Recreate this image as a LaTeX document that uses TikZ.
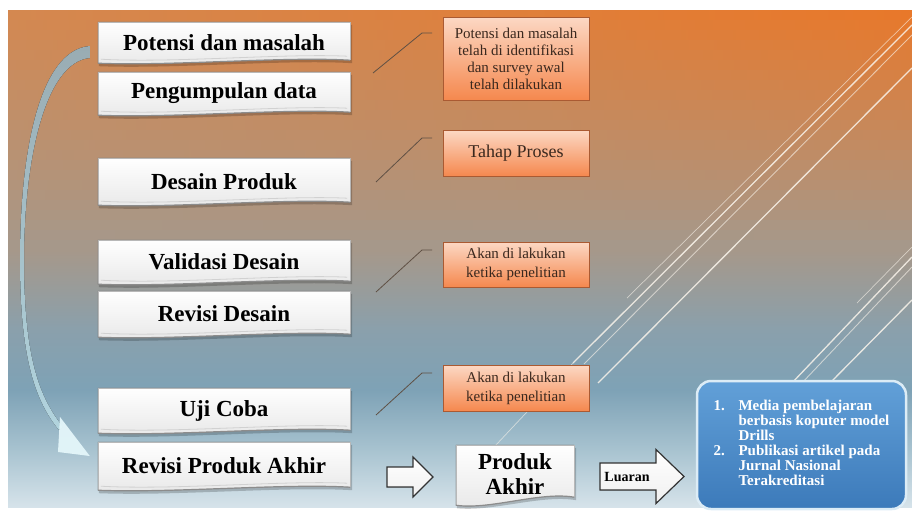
\documentclass[tikz,border=0pt]{standalone}
\usepackage{fontspec}
\setmainfont{Liberation Serif}
\usetikzlibrary{calc}
\pgfdeclarelayer{bg}
\pgfdeclarelayer{shapes}
\pgfsetlayers{bg,shapes,main}
\definecolor{bg0}{RGB}{212,136,80}
\definecolor{bg2}{RGB}{166,152,138}
\definecolor{bg3}{RGB}{138,160,172}
\definecolor{bg4}{RGB}{126,162,182}
\definecolor{bg5}{RGB}{168,195,208}
\definecolor{bg6}{RGB}{214,227,234}
\definecolor{orTop}{RGB}{232,120,42}
\definecolor{obTop}{RGB}{252,216,196}
\definecolor{obBot}{RGB}{245,136,78}
\definecolor{obLine}{RGB}{170,90,50}
\definecolor{obText}{RGB}{58,40,30}
\definecolor{calloutC}{RGB}{95,80,68}
\definecolor{blueTop}{RGB}{98,160,216}
\definecolor{blueBot}{RGB}{60,122,186}
\definecolor{blueEdge}{RGB}{220,236,246}
\definecolor{arcTop}{RGB}{168,190,198}
\definecolor{arcBot}{RGB}{196,234,245}
\definecolor{lineC}{RGB}{250,244,235}
\newcommand\paperbox[1]{%
 \fill[black,opacity=0.2] ($(#1.north west)+(1,3)$) -- ($(#1.north east)+(2,3)$) -- ($(#1.south east)+(2,0)$) .. controls ($(#1.south)+(61,-4)$) and ($(#1.south)+(-49,6)$) .. ($(#1.south west)+(1,3)$) -- cycle;
 \fill[top color=white, bottom color=black!9] (#1.north west) -- (#1.north east) -- ($(#1.south east)+(0,-3)$) .. controls ($(#1.south)+(60,-7)$) and ($(#1.south)+(-50,3)$) .. (#1.south west) -- cycle;
 \draw[black!28, line width=0.6pt] (#1.south west) -- (#1.north west) -- (#1.north east) -- ($(#1.south east)+(0,-3)$);
 \draw[black!18, line width=0.8pt] ($(#1.south east)+(-3,-7)$) .. controls ($(#1.south)+(60,-10)$) and ($(#1.south)+(-50,0)$) .. ($(#1.south west)+(3,-4)$);
 \draw[black!45, line width=1.2pt] ($(#1.south east)+(0,-3)$) .. controls ($(#1.south)+(60,-7)$) and ($(#1.south)+(-50,3)$) .. (#1.south west);
}
\newcommand\blockarrow[5]{%
 \filldraw[arrowbox] ($(#1)+(0,-#3)$) -- ($(#2)+(-#5,-#3)$) -- ($(#2)+(-#5,-#4)$) -- (#2) -- ($(#2)+(-#5,#4)$) -- ($(#2)+(-#5,#3)$) -- ($(#1)+(0,#3)$) -- cycle;
}
\begin{document}
\begin{tikzpicture}[x=1pt,y=-1pt,
 wbox/.style={minimum width=252pt, inner sep=0pt, font=\bfseries\fontsize{23}{25}\selectfont, text=black},
 obox/.style={draw=obLine, line width=0.8pt, top color=obTop, bottom color=obBot, minimum width=146pt, inner sep=0pt, align=center, font=\fontsize{15}{17}\selectfont, text=obText},
 callout/.style={draw=calloutC, line width=0.8pt},
 dline/.style={draw=lineC, line width=1.3pt, opacity=0.85},
 tline/.style={draw=lineC, line width=0.7pt, opacity=0.6},
 arrowbox/.style={top color=white, bottom color=black!6, draw=black!80, line width=1.2pt, line join=miter},
]
\useasboundingbox (0,0) rectangle (912,520);

% left column boxes
\node[wbox, minimum height=41pt] (pm) at (224,42.5) {Potensi dan masalah};
\node[wbox, minimum height=43pt] (pd) at (224,93.5) {Pengumpulan data};
\node[wbox, minimum height=47pt] (dp) at (224,181.5) {Desain Produk};
\node[wbox, minimum height=44pt] (vd) at (224,262) {Validasi Desain};
\node[wbox, minimum height=46pt] (rd) at (224,314) {Revisi Desain};
\node[wbox, minimum height=45pt] (uc) at (224,410.5) {Uji Coba};
\node[wbox, minimum height=48pt] (rp) at (224,466) {Revisi Produk Akhir};

% orange notes
\node[obox, minimum height=83pt] (ob1) at (516,58.5) {Potensi dan masalah\\telah di identifikasi\\dan survey awal\\telah dilakukan};
\node[obox, minimum height=46pt, font=\fontsize{18}{20}\selectfont] (ob2) at (516,153) {Tahap Proses};
\node[obox, minimum height=45pt, font=\fontsize{15}{19}\selectfont] (ob3) at (516,264.5) {Akan di lakukan\\ketika penelitian};
\node[obox, minimum height=46pt, font=\fontsize{15}{19}\selectfont] (ob4) at (516,388) {Akan di lakukan\\ketika penelitian};

% product and output
\node[inner sep=0pt, minimum width=118pt, minimum height=58pt, align=center, font=\bfseries\fontsize{23}{25}\selectfont] (pa) at (515,474) {Produk\\Akhir};
\node[inner sep=0pt, font=\bfseries\fontsize{14}{16}\selectfont] (lu) at (627,476.5) {Luaran};
\node[rounded corners=14pt, draw=blueEdge, line width=2.5pt, top color=blueTop, bottom color=blueBot, minimum width=209pt, minimum height=128pt, inner sep=0pt, text=white, font=\bfseries\fontsize{15}{15}\selectfont] (bb) at (801.5,445) {\begin{tabular}{@{}p{25pt}@{}l@{}}1. & Media pembelajaran\\ & berbasis koputer model\\ & Drills\\ 2. & Publikasi artikel pada\\ & Jurnal Nasional\\ & Terakreditasi\end{tabular}};

% coordinates
\coordinate (k1a) at (373,73);  \coordinate (k1b) at (422,33);  \coordinate (k1c) at (432,33);
\coordinate (k2a) at (376,182); \coordinate (k2b) at (422,138); \coordinate (k2c) at (432,138);
\coordinate (k3a) at (376,292); \coordinate (k3b) at (422,250); \coordinate (k3c) at (432,250);
\coordinate (k4a) at (376,415); \coordinate (k4b) at (422,373); \coordinate (k4c) at (432,373);
\coordinate (wa1) at (387,477); \coordinate (wa2) at (433,477);
\coordinate (la1) at (600,476.5); \coordinate (la2) at (684,476.5);
\coordinate (as) at ($(pm.west)+(-8,9.5)$);
\coordinate (at) at ($(rp.west)+(-8,-10)$);

\begin{pgfonlayer}{bg}
 \foreach \i in {0,...,23} {
   \pgfmathtruncatemacro\pp{100-100*\i/23}
   \fill[left color=bg0!\pp!bg2, right color=orTop!\pp!bg2] (8,{10+10*\i}) rectangle (912,{20.6+10*\i});
 }
 \fill[top color=bg2, bottom color=bg3] (8,250) rectangle (912,330.5);
 \fill[top color=bg3, bottom color=bg4] (8,330) rectangle (912,390.5);
 \fill[top color=bg4, bottom color=bg5] (8,390) rectangle (912,450.5);
 \fill[top color=bg5, bottom color=bg6] (8,450) rectangle (912,507);
 % decorative diagonal lines
 \draw[tline] (627,298) -- (912,17);
 \draw[dline] (573,363) -- (912,25);
 \draw[tline, line width=0.9pt] (584,364) -- (912,35);
 \draw[dline] (598,383) -- (912,68);
 \draw[tline] (495,446) -- (573,363);
 \draw[tline] (857,303) -- (912,247);
 \draw[dline] (790,385) -- (912,257);
 \draw[tline, line width=0.9pt] (800,385) -- (912,267);
 \draw[dline] (828,385) -- (912,300);
 % callouts
 \draw[callout] (k1a) -- (k1b) -- (k1c);
 \draw[callout] (k2a) -- (k2b) -- (k2c);
 \draw[callout] (k3a) -- (k3b) -- (k3c);
 \draw[callout] (k4a) -- (k4b) -- (k4c);
\end{pgfonlayer}

\begin{pgfonlayer}{shapes}
 \paperbox{pm}\paperbox{pd}\paperbox{dp}\paperbox{vd}\paperbox{rd}\paperbox{uc}\paperbox{rp}
 % Produk Akhir document shape
 \fill[black,opacity=0.2] ($(pa.north west)+(1,3)$) -- ($(pa.north east)+(2,3)$) -- ($(pa.south east)+(2,-3)$) .. controls ($(pa.south)+(27,-9)$) and ($(pa.south)+(-24,9)$) .. ($(pa.south west)+(1,5)$) -- cycle;
 \fill[top color=white, bottom color=black!9] (pa.north west) -- (pa.north east) -- ($(pa.south east)+(0,-6)$) .. controls ($(pa.south)+(25,-12)$) and ($(pa.south)+(-25,7)$) .. ($(pa.south west)+(0,2)$) -- cycle;
 \draw[black!28, line width=0.6pt] ($(pa.south west)+(0,2)$) -- (pa.north west) -- (pa.north east) -- ($(pa.south east)+(0,-6)$);
 \draw[black!45, line width=1.2pt] ($(pa.south east)+(0,-6)$) .. controls ($(pa.south)+(25,-12)$) and ($(pa.south)+(-25,7)$) .. ($(pa.south west)+(0,2)$);
 % block arrows
 \blockarrow{wa1}{wa2}{10}{20}{20}
 \blockarrow{la1}{la2}{13.5}{27}{28}
 % curved arrow from first to last step
 \fill[top color=arcTop, bottom color=arcBot, opacity=0.9] ($(as)+(0,-6)$) .. controls (40,50) and (20,150) .. (20,260) .. controls (20,360) and (36,402) .. (59,430) -- (63,427) .. controls (40,398) and (24,360) .. (24,260) .. controls (24,160) and (45,62) .. ($(as)+(0,6)$) -- cycle;
 \fill[arcBot!45!white, opacity=0.95] (60,417) -- (at) -- (58,452) -- cycle;
\end{pgfonlayer}
\end{tikzpicture}
\end{document}
